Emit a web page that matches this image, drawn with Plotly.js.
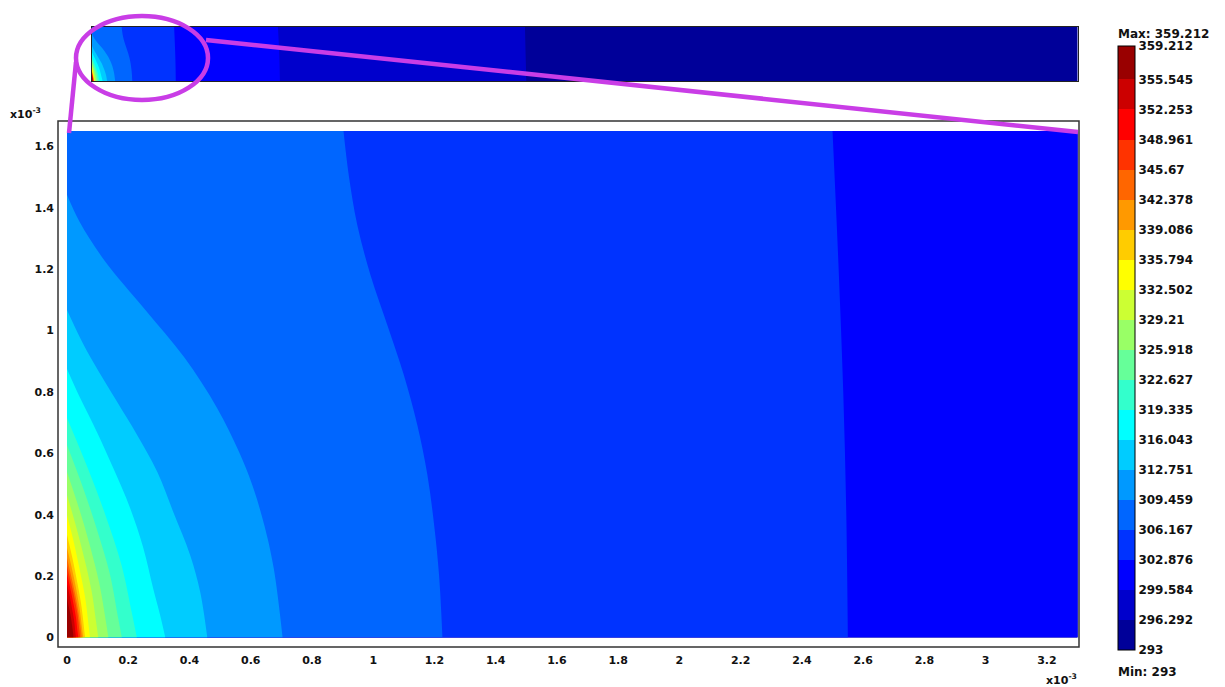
<!DOCTYPE html>
<html>
<head>
<meta charset="utf-8">
<script src="https://cdn.plot.ly/plotly-3.0.1.min.js"></script>
<style>
  html, body { margin: 0; padding: 0; background: #ffffff; }
  #chart { width: 1225px; height: 687px; }
</style>
</head>
<body>
<div id="chart"></div>
<script>
// Temperature levels of the isotherms (K) and their colorbar labels
const levels = [293, 296.292, 299.584, 302.876, 306.167, 309.459, 312.751, 316.043,
  319.335, 322.627, 325.918, 329.21, 332.502, 335.794, 339.086, 342.378, 345.67,
  348.961, 352.253, 355.545, 359.212];
const levelLabels = ['293', '296.292', '299.584', '302.876', '306.167', '309.459',
  '312.751', '316.043', '319.335', '322.627', '325.918', '329.21', '332.502',
  '335.794', '339.086', '342.378', '345.67', '348.961', '352.253', '355.545', '359.212'];
// fill colour of each band between two consecutive levels (jet map, 20 steps)
const bandColors = ['#000099', '#0000CC', '#0000FF', '#0033FF', '#0066FF', '#0099FF',
  '#00CCFF', '#00FFFF', '#33FFCC', '#66FF99', '#99FF66', '#CCFF33', '#FFFF00',
  '#FFCC00', '#FF9900', '#FF6600', '#FF3300', '#FF0000', '#CC0000', '#990000'];

// Isotherm paths, coordinates in units of 1e-3 m, each running from the
// bottom edge (y = 0) towards the left wall (x = 0) or the top edge.
const iso1x = [13.22, 13.2, 13.18];
const iso1y = [0, 0.82, 1.65];
const iso2x = [5.72, 5.70, 5.66];
const iso2y = [0, 0.82, 1.65];
const iso3x = [2.55, 2.545, 2.535, 2.52, 2.50];
const iso3y = [0, 0.4, 0.8, 1.2, 1.65];
const iso4x = [1.226, 1.215, 1.199, 1.177, 1.144, 1.100, 1.046, 0.991, 0.948, 0.920, 0.903];
const iso4y = [0, 0.204, 0.366, 0.529, 0.692, 0.855, 1.018, 1.181, 1.344, 1.507, 1.65];
const iso5x = [0.704, 0.675, 0.644, 0.605, 0.562, 0.490, 0.384, 0.256, 0.121, 0.041, 0];
const iso5y = [0, 0.226, 0.367, 0.497, 0.604, 0.748, 0.911, 1.067, 1.230, 1.354, 1.442];
const iso6x = [0.458, 0.435, 0.402, 0.347, 0.295, 0.229, 0.164, 0.085, 0.043, 0];
const iso6y = [0, 0.148, 0.269, 0.409, 0.539, 0.660, 0.767, 0.898, 0.976, 1.067];
const iso7x = [0.321, 0.304, 0.281, 0.249, 0.206, 0.151, 0.098, 0.043, 0];
const iso7y = [0, 0.073, 0.161, 0.292, 0.422, 0.552, 0.669, 0.780, 0.875];
const iso8x = [0.228, 0.212, 0.178, 0.125, 0.068, 0];
const iso8y = [0, 0.079, 0.236, 0.400, 0.551, 0.715];
const iso9x = [0.179, 0.166, 0.140, 0.098, 0.054, 0];
const iso9y = [0, 0.069, 0.207, 0.351, 0.483, 0.627];
const iso10x = [0.135, 0.126, 0.105, 0.074, 0.041, 0];
const iso10y = [0, 0.059, 0.178, 0.302, 0.415, 0.539];
const iso11x = [0.102, 0.095, 0.080, 0.056, 0.031, 0];
const iso11y = [0, 0.051, 0.153, 0.260, 0.357, 0.464];
const iso12x = [0.075, 0.070, 0.059, 0.041, 0.023, 0];
const iso12y = [0, 0.044, 0.132, 0.223, 0.307, 0.399];
const iso13x = [0.059, 0.055, 0.046, 0.032, 0.018, 0];
const iso13y = [0, 0.037, 0.110, 0.187, 0.257, 0.334];
const iso14x = [0.053, 0.049, 0.041, 0.029, 0.016, 0];
const iso14y = [0, 0.032, 0.096, 0.164, 0.225, 0.292];
const iso15x = [0.048, 0.045, 0.037, 0.026, 0.014, 0];
const iso15y = [0, 0.028, 0.085, 0.145, 0.199, 0.259];
const iso16x = [0.043, 0.040, 0.034, 0.024, 0.013, 0];
const iso16y = [0, 0.026, 0.077, 0.130, 0.179, 0.233];
const iso17x = [0.037, 0.034, 0.029, 0.020, 0.011, 0];
const iso17y = [0, 0.023, 0.068, 0.116, 0.159, 0.207];
const iso18x = [0.029, 0.027, 0.023, 0.016, 0.009, 0];
const iso18y = [0, 0.019, 0.057, 0.097, 0.134, 0.174];
const iso19x = [0.021, 0.020, 0.016, 0.012, 0.006, 0];
const iso19y = [0, 0.014, 0.043, 0.072, 0.099, 0.129];

const isoX = [null, iso1x, iso2x, iso3x, iso4x, iso5x, iso6x, iso7x, iso8x, iso9x, iso10x,
  iso11x, iso12x, iso13x, iso14x, iso15x, iso16x, iso17x, iso18x, iso19x];
const isoY = [null, iso1y, iso2y, iso3y, iso4y, iso5y, iso6y, iso7y, iso8y, iso9y, iso10y,
  iso11y, iso12y, iso13y, iso14y, iso15y, iso16y, iso17y, iso18y, iso19y];

// Axis ticks of the detail view (units of 1e-3 m)
const xTickVals = [0, 0.2, 0.4, 0.6, 0.8, 1, 1.2, 1.4, 1.6, 1.8, 2, 2.2, 2.4, 2.6, 2.8, 3, 3.2];
const xTickText = ['0', '0.2', '0.4', '0.6', '0.8', '1', '1.2', '1.4', '1.6', '1.8', '2',
  '2.2', '2.4', '2.6', '2.8', '3', '3.2'];
const yTickVals = [0, 0.2, 0.4, 0.6, 0.8, 1, 1.2, 1.4, 1.6];
const yTickText = ['0', '0.2', '0.4', '0.6', '0.8', '1', '1.2', '1.4', '1.6'];

const W = 1225, H = 687;
const px = v => v / W;          // horizontal pixel -> paper
const py = v => 1 - v / H;      // vertical pixel -> paper

const tMin = levels[0], tMax = levels[levels.length - 1];
const colorscale = [];
for (let k = 0; k < bandColors.length; k++) {
  colorscale.push([(levels[k] - tMin) / (tMax - tMin), bandColors[k]]);
  colorscale.push([(levels[k + 1] - tMin) / (tMax - tMin), bandColors[k]]);
}

// Each isotherm fills the hotter region between itself and the left wall;
// drawing them from coolest to hottest stacks the bands.
const traces = [];
[['x', 'y'], ['x2', 'y2']].forEach(([xa, ya]) => {
  for (let k = 1; k < isoX.length; k++) {
    traces.push({
      type: 'scatter', mode: 'lines', xaxis: xa, yaxis: ya,
      x: isoX[k], y: isoY[k],
      line: { shape: 'spline', smoothing: 1, width: 0, color: bandColors[k] },
      fill: 'tozerox', fillcolor: bandColors[k],
      hoverinfo: 'skip', showlegend: false
    });
  }
});

// colour legend of the temperature field
traces.push({
  type: 'scatter', mode: 'markers', x: [null], y: [null], xaxis: 'x', yaxis: 'y',
  hoverinfo: 'skip', showlegend: false,
  marker: {
    color: [tMin], cmin: tMin, cmax: tMax, colorscale: colorscale, showscale: true,
    colorbar: {
      thickness: 17, thicknessmode: 'pixels',
      len: 604, lenmode: 'pixels',
      x: px(1118), xanchor: 'left', xpad: 0,
      y: py(650), yanchor: 'bottom', ypad: 0,
      outlinewidth: 1, outlinecolor: '#000000',
      tickmode: 'array', tickvals: levels, ticktext: levelLabels,
      ticks: '', ticklabelstandoff: 1,
      tickfont: { family: 'DejaVu Sans', size: 12, color: '#111111', weight: 'bold' }
    }
  }
});

const tickFont = { family: 'DejaVu Sans', size: 11, color: '#111111', weight: 'bold' };
const labelFont = { family: 'DejaVu Sans', size: 12, color: '#111111', weight: 'bold' };
const magenta = '#c93de6';

const layout = {
  width: W, height: H,
  margin: { l: 0, r: 0, t: 0, b: 0, pad: 0 },
  paper_bgcolor: '#ffffff',
  plot_bgcolor: bandColors[0],
  showlegend: false,
  xaxis: {
    domain: [px(67), px(1077.5)], range: [0, 3.3], anchor: 'y',
    tickmode: 'array', tickvals: xTickVals, ticktext: xTickText,
    ticks: '', ticklabelstandoff: 14, tickfont: tickFont,
    showgrid: false, zeroline: false, showline: false, fixedrange: true
  },
  yaxis: {
    domain: [py(637.5), py(131)], range: [0, 1.65], anchor: 'x',
    tickmode: 'array', tickvals: yTickVals, ticktext: yTickText,
    ticks: '', ticklabelstandoff: 12, tickfont: tickFont,
    showgrid: false, zeroline: false, showline: false, fixedrange: true
  },
  xaxis2: {
    domain: [px(92), px(1077.5)], range: [0, 30], anchor: 'y2',
    showticklabels: false, ticks: '', showgrid: false, zeroline: false,
    showline: true, mirror: true, linecolor: '#222222', linewidth: 1, fixedrange: true
  },
  yaxis2: {
    domain: [py(81), py(27)], range: [0, 1.65], anchor: 'x2',
    showticklabels: false, ticks: '', showgrid: false, zeroline: false,
    showline: true, mirror: true, linecolor: '#222222', linewidth: 1, fixedrange: true
  },
  shapes: [
    // frame round the detail view
    { type: 'rect', xref: 'paper', yref: 'paper', x0: px(58), x1: px(1079), y0: py(647), y1: py(121),
      line: { color: '#333333', width: 1.5 }, fillcolor: 'rgba(0,0,0,0)' },
    // zoom marker on the overview strip
    { type: 'circle', xref: 'paper', yref: 'paper', x0: px(76), x1: px(208), y0: py(100), y1: py(16),
      line: { color: magenta, width: 4.5 } },
    { type: 'line', xref: 'paper', yref: 'paper', x0: px(76), y0: py(62), x1: px(69), y1: py(133),
      line: { color: magenta, width: 4.5 } },
    { type: 'line', xref: 'paper', yref: 'paper', x0: px(206), y0: py(40), x1: px(1078), y1: py(132),
      line: { color: magenta, width: 4.5 } }
  ],
  annotations: [
    { xref: 'paper', yref: 'paper', x: px(8), y: py(114), xanchor: 'left', yanchor: 'middle',
      text: 'x10<sup>-3</sup>', showarrow: false, font: tickFont },
    { xref: 'paper', yref: 'paper', x: px(1079), y: py(679), xanchor: 'right', yanchor: 'middle',
      text: 'x10<sup>-3</sup>', showarrow: false, font: tickFont },
    { xref: 'paper', yref: 'paper', x: px(1116), y: py(34), xanchor: 'left', yanchor: 'middle',
      text: 'Max: 359.212', showarrow: false, font: labelFont },
    { xref: 'paper', yref: 'paper', x: px(1116), y: py(672), xanchor: 'left', yanchor: 'middle',
      text: 'Min: 293', showarrow: false, font: labelFont }
  ]
};

Plotly.newPlot('chart', traces, layout, { staticPlot: true, displayModeBar: false });
</script>
</body>
</html>
